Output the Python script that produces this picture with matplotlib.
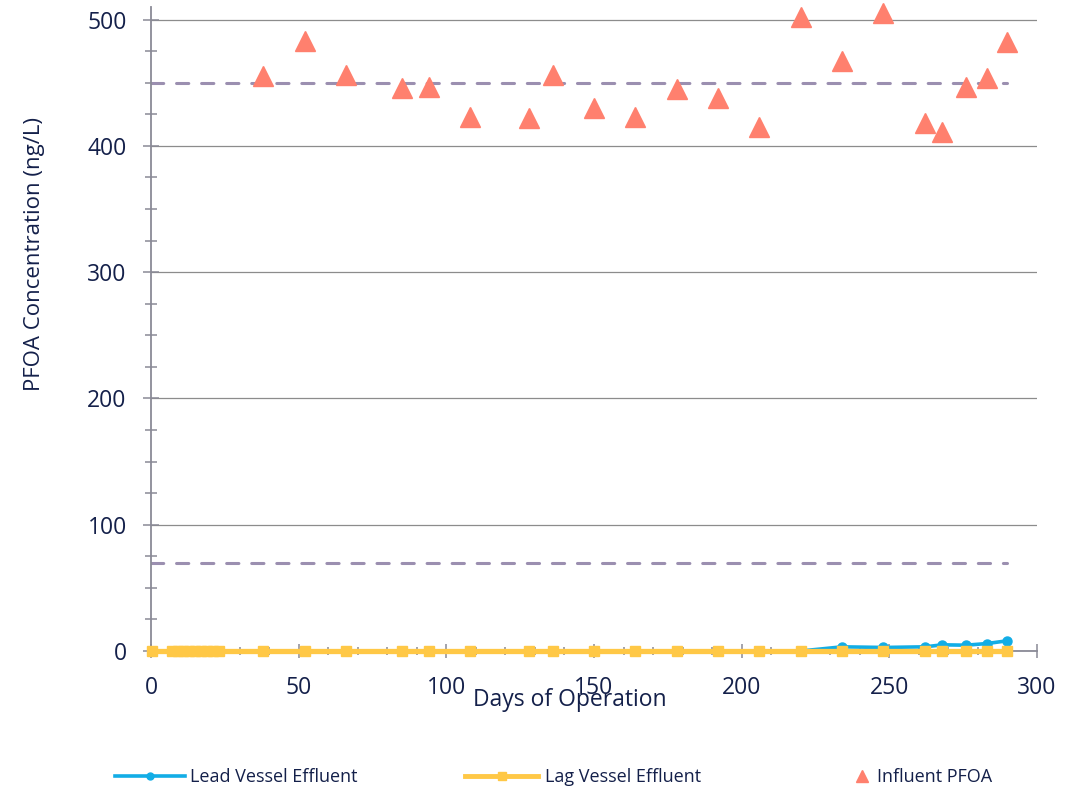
import matplotlib
matplotlib.use("Agg")
import matplotlib.pyplot as plt
from matplotlib.lines import Line2D
from matplotlib.ticker import MultipleLocator

# ---- data ----
effluent_days = [0.5, 7, 9, 11, 13, 15, 17, 19, 21, 23, 38, 52, 66, 85, 94, 108,
                 128, 136, 150, 164, 178, 192, 206, 220, 234, 248, 262, 268, 276, 283, 290]
lead_effluent = [0] * 24 + [3.3, 2.8, 3.3, 4.9, 4.6, 5.9, 8.1]
lag_effluent = [0] * 31

influent_days = [38, 52, 66, 85, 94, 108, 128, 136, 150, 164, 178, 192, 206,
                 220, 234, 248, 262, 268, 276, 283, 290]
influent_pfoa = [455, 483, 456, 446, 447, 423, 422, 456, 430, 423, 445, 438, 415,
                 502, 467, 505, 418, 411, 447, 454, 482]

ref_lines = [450, 70]
ref_x = [0, 290]

x_ticks = [0, 50, 100, 150, 200, 250, 300]
y_ticks = [0, 100, 200, 300, 400, 500]

# ---- style ----
W, H = 1086, 788
navy = "#14204a"
blue = "#12ade6"
yellow = "#ffc846"
salmon = "#ff806e"
dash_col = "#9b8fb0"
axis_col = "#8a8a96"
grid_col = "#8c8c8c"
font = "Open Sans"

fig = plt.figure(figsize=(W / 100, H / 100), dpi=100)
ax = fig.add_axes([151 / W, 1 - 651 / H, (1037 - 151) / W, (651 - 7) / H])

ax.set_xlim(0, 300)
ax.set_ylim(0, 510)

for v in ref_lines:
    ax.plot(ref_x, [v, v], color=dash_col, lw=2.2, linestyle=(0, (4.0, 4.2)),
            dash_capstyle="round", zorder=2)

ax.plot(effluent_days, lead_effluent, color=blue, lw=2.6, marker="o", ms=6.5,
        zorder=3, clip_on=False, label="Lead Vessel Effluent")
ax.plot(effluent_days, lag_effluent, color=yellow, lw=3.8, marker="s", ms=7.5,
        zorder=4, clip_on=False, label="Lag Vessel Effluent")
ax.plot(influent_days, influent_pfoa, linestyle="none", marker="^", ms=14.5,
        color=salmon, zorder=5, clip_on=False, label="Influent PFOA")

# gridlines
ax.yaxis.grid(True, color=grid_col, lw=0.9)
ax.set_axisbelow(True)

for s in ["top", "right"]:
    ax.spines[s].set_visible(False)
for s in ["left", "bottom"]:
    ax.spines[s].set_color(axis_col)
    ax.spines[s].set_linewidth(1.3)

ax.set_xticks(x_ticks)
ax.set_yticks(y_ticks)
ax.xaxis.set_minor_locator(MultipleLocator(10))
ax.yaxis.set_minor_locator(MultipleLocator(25))
ax.tick_params(axis="y", which="major", direction="inout", length=11, width=1.1,
               color=axis_col, labelsize=16.5, labelcolor=navy, pad=12)
ax.tick_params(axis="y", which="minor", direction="inout", length=9, width=1.1,
               color=axis_col)
ax.tick_params(axis="x", which="major", direction="inout", length=10, width=1.1,
               color=axis_col, labelsize=16.5, labelcolor=navy, pad=13)
ax.tick_params(axis="x", which="minor", direction="inout", length=6, width=1.1,
               color=axis_col)
for lab in ax.get_xticklabels() + ax.get_yticklabels():
    lab.set_fontfamily(font)

fig.text(35 / W, 1 - 254 / H, "PFOA Concentration (ng/L)", rotation=90,
         ha="center", va="center", fontsize=16, color=navy, family=font)
fig.text(570 / W, 1 - 700 / H, "Days of Operation", ha="center", va="center",
         fontsize=16.5, color=navy, family=font)

# legends
h_lead = Line2D([], [], color=blue, lw=2.6, marker="o", ms=5)
h_lag = Line2D([], [], color=yellow, lw=3.5, marker="s", ms=6)
h_inf = Line2D([], [], linestyle="none", color=salmon, marker="^", ms=9)
fs = 13
specs = [(h_lead, "Lead Vessel Effluent", 115, 70, 5),
         (h_lag, "Lag Vessel Effluent", 465, 73, 7),
         (h_inf, "Influent PFOA", 852, 20, 5)]
for h, txt, x0, hl_px, pad_px in specs:
    em = fs * 100 / 72
    lg = fig.legend([h], [txt], loc="center left",
                    bbox_to_anchor=(x0 / W, 1 - 777 / H), frameon=False,
                    borderpad=0, borderaxespad=0, handlelength=hl_px / em,
                    handletextpad=pad_px / em,
                    prop={"family": font, "size": fs})
    for t in lg.get_texts():
        t.set_color(navy)

fig.savefig("out.png", dpi=100)
